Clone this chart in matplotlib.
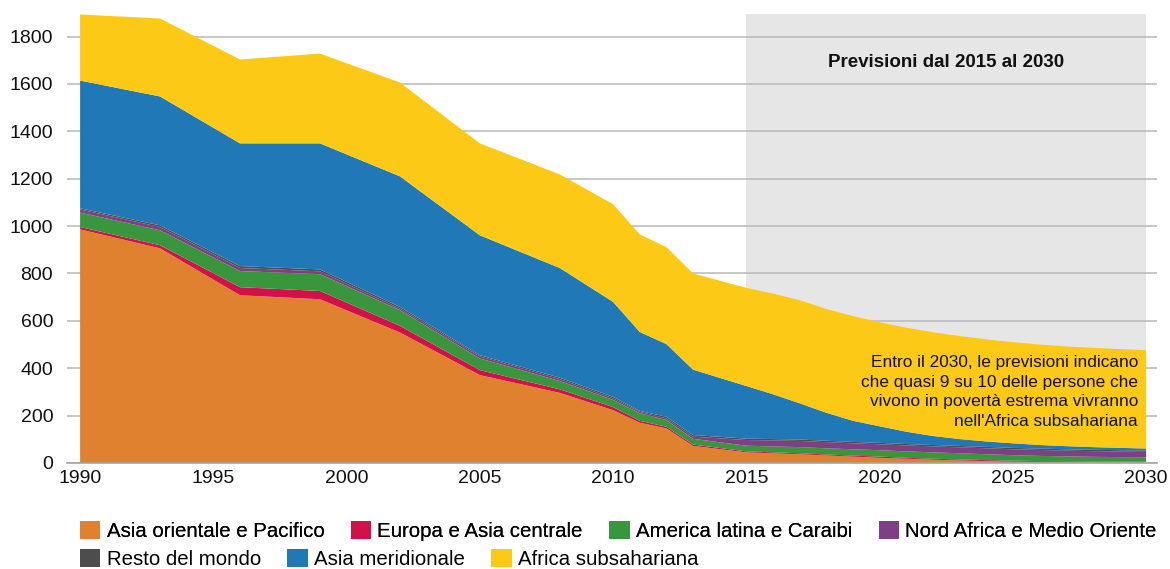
import matplotlib
matplotlib.use("Agg")
import matplotlib.pyplot as plt
from matplotlib.patches import Patch
import numpy as np

plt.rcParams["font.family"] = ["Liberation Sans", "DejaVu Sans"]

# millions of people in extreme poverty, by region
years = [1990, 1993, 1996, 1999, 2002, 2005, 2008, 2010, 2011, 2012, 2013,
         2015, 2016, 2017, 2018, 2019, 2020, 2021, 2022, 2023, 2024,
         2025, 2026, 2027, 2028, 2029, 2030]
asia_orientale = [986, 906, 708, 691, 551, 371, 296, 223, 170, 146, 72,
                  45, 41, 37, 32, 27, 22, 18, 14, 11, 8,
                  6, 5, 4, 3, 3, 3]
europa_asia_c = [10, 13, 34, 35, 28, 21, 15, 13, 8, 7, 6,
                 4, 4, 4, 4, 4, 5, 4, 4, 4, 4,
                 4, 3, 3, 3, 3, 2]
america_latina = [61, 63, 68, 71, 66, 49, 35, 30, 32, 28, 24,
                  24, 25, 26, 26, 27, 27, 27, 27, 26, 25,
                  23, 22, 21, 20, 19, 19]
nord_africa = [13, 14, 13, 12, 7, 9, 8, 7, 6, 7, 9,
               24, 25, 26, 26, 25, 25, 25, 25, 25, 25,
               25, 25, 24, 24, 23, 23]
resto_mondo = [5, 7, 8, 8, 7, 5, 6, 6, 4, 7, 7,
               6, 6, 6, 6, 6, 6, 6, 6, 6, 6,
               6, 6, 6, 6, 6, 6]
asia_merid = [539, 544, 518, 532, 551, 506, 463, 401, 333, 307, 276,
              222, 189, 153, 118, 89, 70, 52, 38, 29, 23,
              19, 15, 13, 11, 10, 8]
africa_subs = [279, 329, 354, 379, 396, 388, 395, 412, 412, 409, 406,
               414, 425, 435, 438, 442, 439, 439, 438, 435, 431,
               427, 424, 421, 419, 417, 415]

labels = ["Asia orientale e Pacifico", "Europa e Asia centrale",
          "America latina e Caraibi", "Nord Africa e Medio Oriente",
          "Resto del mondo", "Asia meridionale", "Africa subsahariana"]
colors = ["#E08130", "#D2114B", "#3A963D", "#7F3F86",
          "#4D4D4D", "#2079B6", "#FDC917"]

forecast_start, forecast_end = 2015, 2030

fig = plt.figure(figsize=(11.7, 5.69), dpi=100)
ax = fig.add_axes([0.0573, 0.1863, 0.9316, 0.7891])

series = [asia_orientale, europa_asia_c, america_latina, nord_africa,
          resto_mondo, asia_merid, africa_subs]
ax.stackplot(years, *series, colors=colors, linewidth=0, zorder=2)

ax.axvspan(forecast_start, forecast_end, color="#E6E6E6", lw=0, zorder=0.2)

ax.set_xlim(1989.51, 2030.41)
ax.set_ylim(0, 1895)
ax.set_yticks(np.arange(0, 1801, 200))
ax.set_xticks(np.arange(1990, 2031, 5))
ax.yaxis.grid(True, color="#BDBDBD", lw=1.2, zorder=1)
ax.set_axisbelow(True)
for s in ["top", "right", "left"]:
    ax.spines[s].set_visible(False)
ax.spines["bottom"].set_color("#A6A6A6")
ax.spines["bottom"].set_linewidth(1.2)
ax.tick_params(axis="both", length=0, labelsize=14, colors="#111111")
ax.tick_params(axis="y", pad=10)
ax.tick_params(axis="x", pad=5)

ax.text((forecast_start + forecast_end) / 2, 1690, "Previsioni dal 2015 al 2030",
        ha="center", va="center", fontsize=13.5, fontweight="bold",
        color="#111111", zorder=3)
ax.text(2029.7, 300,
        "Entro il 2030, le previsioni indicano\n"
        "che quasi 9 su 10 delle persone che\n"
        "vivono in povertà estrema vivranno\n"
        "nell'Africa subsahariana",
        ha="right", va="center", multialignment="right", fontsize=12.4,
        color="#111111", linespacing=1.38, zorder=3)

handles = [Patch(facecolor=c, edgecolor="none") for c in colors]
leg_kw = dict(frameon=False, fontsize=14.7, handlelength=1.0, handleheight=1.0,
              handletextpad=0.3, columnspacing=1.3, borderpad=0,
              borderaxespad=0, loc="upper left")
leg1 = fig.legend(handles[:4], labels[:4], ncol=4,
                  bbox_to_anchor=(0.0684, 0.0845), **leg_kw)
fig.add_artist(leg1)
fig.legend(handles[4:], labels[4:], ncol=3,
           bbox_to_anchor=(0.0684, 0.0350), **leg_kw)

fig.savefig("out.png", dpi=100)
